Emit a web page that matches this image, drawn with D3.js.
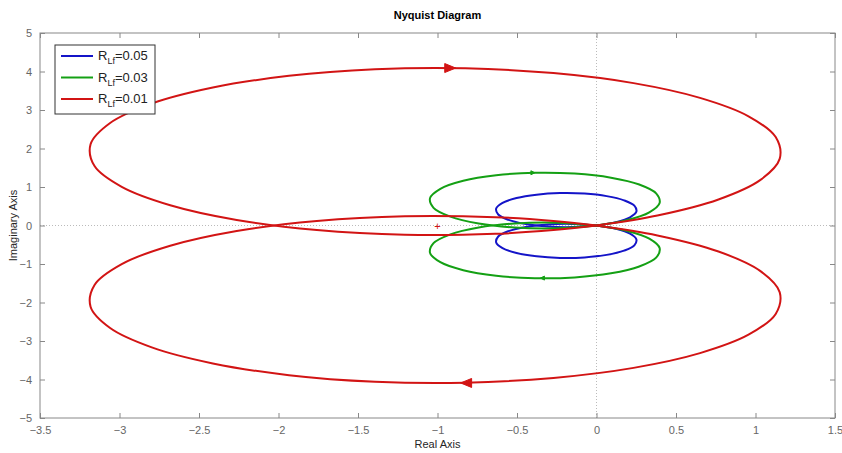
<!DOCTYPE html>
<html>
  <head>
    <title>Nyquist Diagram</title>
  </head>
  <body style="margin:0;background:#fff;">
<meta charset="utf-8">
<script src="https://d3js.org/d3.v7.min.js"></script>
<div id="nyquist"></div>

<script>

// upper (positive frequency) branch of each curve
// the lower branch is its mirror image (complex conjugate)
const blueRe = [0, 0.123, 0.211, 0.251, 0.238, 0.173, 0.064, -0.075, -0.229, -0.377, -0.503, -0.591, -0.631, -0.618, -0.553, -0.444, -0.305, -0.151, 0];
const blueIm = [0, 0.087, 0.213, 0.361, 0.515, 0.654, 0.763, 0.828, 0.841, 0.801, 0.713, 0.587, 0.439, 0.285, 0.146, 0.037, -0.028, -0.041, 0];

const greenRe = [0, 0.188, 0.332, 0.397, 0.375, 0.269, 0.091, -0.137, -0.388, -0.631, -0.838, -0.982, -1.047, -1.025, -0.919, -0.741, -0.513, -0.262, 0];
const greenIm = [0, 0.135, 0.342, 0.585, 0.836, 1.064, 1.242, 1.348, 1.370, 1.305, 1.161, 0.954, 0.711, 0.460, 0.232, 0.054, -0.052, -0.074, 0];

const redRe = [0, 0.383, 0.767, 1.029, 1.152, 1.127, 0.956, 0.651, 0.233, -0.271, -0.825, -1.393, -1.934, -2.413, -2.797, -3.059, -3.182, -3.157, -2.986, -2.681, -2.263, -1.759, -1.205, -0.637, -0.271, 0];
const redIm = [0, 0.258, 0.675, 1.178, 1.731, 2.297, 2.837, 3.315, 3.698, 3.959, 4.082, 4.057, 3.887, 3.582, 3.165, 2.662, 2.109, 1.543, 1.003, 0.525, 0.142, -0.119, -0.242, -0.217, -0.119, 0];

const legendLabels = ["0.05", "0.03", "0.01"];
const colors = ["#1414c8", "#14a014", "#d21414"];

// direction arrows: position on the curve and sense (1 = pointing right)
const arrowRe = [[], [-0.40, -0.34], [-0.92, -0.82]];
const arrowIm = [[], [1.370, -1.366], [4.09, -4.09]];
const arrowDir = [[], [1, -1], [1, -1]];

const xTicks = [-3.5, -3, -2.5, -2, -1.5, -1, -0.5, 0, 0.5, 1, 1.5];
const yTicks = [-5, -4, -3, -2, -1, 0, 1, 2, 3, 4, 5];

const W = 842, H = 453;
const margin = {top: 33, right: 7, bottom: 35, left: 40},
  width = W - margin.left - margin.right,
  height = H - margin.top - margin.bottom;

const svg = d3.select("#nyquist")
  .append("svg")
    .attr("width", W)
    .attr("height", H)
    .style("font-family", "'Liberation Sans', Arial, sans-serif")
  .append("g")
    .attr("transform", `translate(${margin.left}, ${margin.top})`);

const x = d3.scaleLinear().domain([-3.5, 1.5]).range([0, width]);
const y = d3.scaleLinear().domain([-5, 5]).range([height, 0]);

// zero lines
svg.append("line")
  .attr("x1", x(0)).attr("x2", x(0)).attr("y1", 0).attr("y2", height)
  .style("stroke", "#bbb").style("stroke-dasharray", "1,2");
svg.append("line")
  .attr("x1", 0).attr("x2", width).attr("y1", y(0)).attr("y2", y(0))
  .style("stroke", "#bbb").style("stroke-dasharray", "1,2");

// axes (ticks pointing inward, box all round)
const axisColor = "#888";
function styleAxis(g) {
  g.select(".domain").remove();
  g.selectAll(".tick line").style("stroke", axisColor);
  g.selectAll(".tick text").style("fill", "#666").style("font-size", "11px");
}
svg.append("g")
  .attr("transform", `translate(0, ${height})`)
  .call(d3.axisBottom(x).tickValues(xTicks).tickSize(-5).tickPadding(8).tickFormat(d3.format("")))
  .call(styleAxis);
svg.append("g")
  .call(d3.axisTop(x).tickValues(xTicks).tickSize(-5).tickFormat(""))
  .call(styleAxis);
svg.append("g")
  .call(d3.axisLeft(y).tickValues(yTicks).tickSize(-5).tickPadding(8).tickFormat(d3.format("")))
  .call(styleAxis);
svg.append("g")
  .attr("transform", `translate(${width}, 0)`)
  .call(d3.axisRight(y).tickValues(yTicks).tickSize(-5).tickFormat(""))
  .call(styleAxis);
svg.append("rect")
  .attr("width", width).attr("height", height)
  .style("fill", "none").style("stroke", axisColor);

// critical point
svg.append("text")
  .attr("x", x(-1)).attr("y", y(0) + 4)
  .attr("text-anchor", "middle")
  .style("fill", "#d21414").style("font-size", "11px")
  .text("+");

// curves
const line = d3.line()
  .x(d => x(d[0]))
  .y(d => y(d[1]))
  .curve(d3.curveCatmullRom.alpha(0.5));

const series = [[blueRe, blueIm], [greenRe, greenIm], [redRe, redIm]];
series.forEach(function(s, i) {
  const upper = s[0].map((re, k) => [re, s[1][k]]);
  const lower = s[0].map((re, k) => [re, -s[1][k]]);
  [upper, lower].forEach(function(pts) {
    svg.append("path")
      .datum(pts)
      .attr("d", line)
      .style("fill", "none")
      .style("stroke", colors[i])
      .style("stroke-width", 2)
      .style("stroke-linejoin", "round");
  });
  arrowRe[i].forEach(function(re, k) {
    const px = x(re), py = y(arrowIm[i][k]), dir = arrowDir[i][k];
    const len = i === 2 ? 11 : 4, half = i === 2 ? 4.5 : 2;
    svg.append("path")
      .attr("d", `M${px + dir * len / 2},${py} L${px - dir * len / 2},${py - half} L${px - dir * len / 2},${py + half} Z`)
      .style("fill", colors[i])
      .style("stroke", colors[i]);
  });
});

// title and axis labels
svg.append("text")
  .attr("x", width / 2).attr("y", -14)
  .attr("text-anchor", "middle")
  .style("font-size", "11px").style("font-weight", "bold")
  .text("Nyquist Diagram");
svg.append("text")
  .attr("x", width / 2).attr("y", height + 30)
  .attr("text-anchor", "middle")
  .style("font-size", "11px").style("fill", "#262626")
  .text("Real Axis");
svg.append("text")
  .attr("transform", `translate(-23, ${height / 2}) rotate(-90)`)
  .attr("text-anchor", "middle")
  .style("font-size", "11px").style("fill", "#262626")
  .text("Imaginary Axis");

// legend
const legend = svg.append("g").attr("transform", "translate(15, 12)");
legend.append("rect")
  .attr("width", 100).attr("height", 69)
  .style("fill", "#fff").style("stroke", "#333");
legendLabels.forEach(function(lab, i) {
  const ly = 11 + i * 21.5;
  legend.append("line")
    .attr("x1", 6).attr("x2", 38).attr("y1", ly).attr("y2", ly)
    .style("stroke", colors[i]).style("stroke-width", 2);
  const t = legend.append("text")
    .attr("x", 43).attr("y", ly + 4)
    .style("font-size", "13px").style("fill", "#222");
  t.append("tspan").text("R");
  t.append("tspan").attr("dy", 4).style("font-size", "9px").text("Lf");
  t.append("tspan").attr("dy", -4).text("=" + lab);
});

</script>
</body>
</html>
